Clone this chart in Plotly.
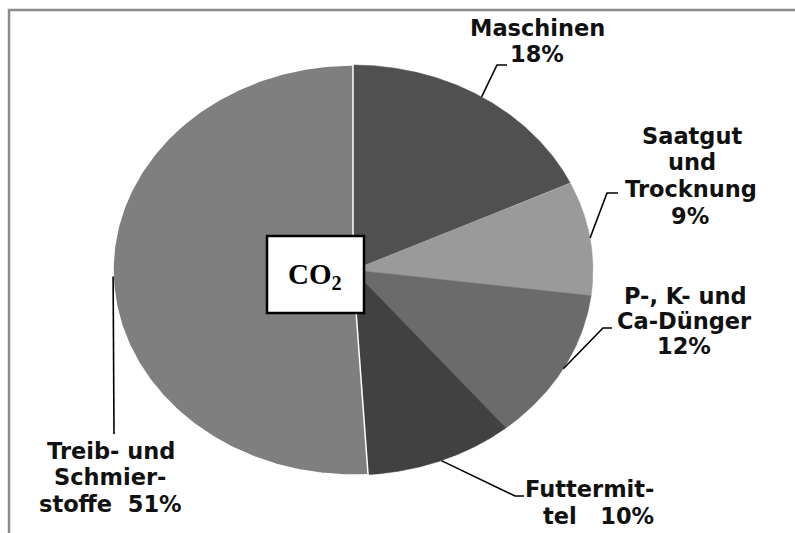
import numpy as np
import plotly.graph_objects as go

# ---- data ----
categories = ["Maschinen", "Saatgut und Trocknung", "P-, K- und Ca-Dünger",
              "Futtermittel", "Treib- und Schmierstoffe"]
shares = [18, 9, 12, 10, 51]
label_templates = [
    ["Maschinen", "{p}%"],
    ["Saatgut", "und", "Trocknung", "{p}%"],
    ["P-, K- und", "Ca-Dünger", "{p}%"],
    ["Futtermit-", "tel\u00a0\u00a0\u00a0{p}%"],
    ["Treib-\u00a0und", "Schmier-", "stoffe\u00a0\u00a0{p}%"],
]
center_label = "CO<sub>2</sub>"

# ---- styling / layout ----
colors = ["#505050", "#9a9a9a", "#6b6b6b", "#414141", "#7f7f7f"]
W, H = 795, 533
CX, CY, RX, RY = 353, 270, 240, 205
label_pos = [
    [(537, 28), (537, 54)],
    [(692, 136), (692, 162), (691, 189), (690, 216)],
    [(685, 296), (684, 321), (684, 346)],
    [(589, 489), (598, 516)],
    [(111, 451), (110, 477), (110, 504)],
]
leader_ends = [
    [(497, 65), (507, 65)],
    [(607, 193), (618, 193)],
    [(603, 328), (612, 328)],
    [(515, 496), (524, 496)],
    [(114, 434)],
]
FONT = dict(family="DejaVu Sans", size=22.5, color="#111111", weight="bold")

fig = go.Figure()

fracs = np.cumsum([0] + shares) / sum(shares) * 2 * np.pi
for i, name in enumerate(categories):
    a0, a1 = fracs[i], fracs[i + 1]
    t = np.linspace(a0, a1, 200)
    xs = np.concatenate([[CX], CX + RX * np.sin(t), [CX]])
    ys = np.concatenate([[CY], CY - RY * np.cos(t), [CY]])
    is_big = shares[i] == max(shares)
    fig.add_trace(go.Scatter(
        x=xs, y=ys, mode="lines", fill="toself", fillcolor=colors[i],
        line=dict(color="white" if is_big else colors[i], width=1.5 if is_big else 0.5),
        name=name, hoverinfo="name", showlegend=False,
    ))

# leader lines from slice mid-angles
for i in range(len(categories)):
    mid = (fracs[i] + fracs[i + 1]) / 2
    sx, sy = CX + RX * np.sin(mid), CY - RY * np.cos(mid)
    pts = [(sx, sy)] + leader_ends[i]
    fig.add_trace(go.Scatter(
        x=[p[0] for p in pts], y=[p[1] for p in pts], mode="lines",
        line=dict(color="black", width=1.6), hoverinfo="skip", showlegend=False,
    ))

annotations = []
for i, lines in enumerate(label_templates):
    for j, ln in enumerate(lines):
        x, y = label_pos[i][j]
        annotations.append(dict(
            x=x, y=y, xref="x", yref="y", text=ln.format(p=shares[i]),
            showarrow=False, font=FONT, xanchor="center", yanchor="middle",
        ))
annotations.append(dict(
    x=315, y=276, xref="x", yref="y", text=center_label, showarrow=False,
    font=dict(family="Liberation Serif", size=29, color="black", weight="bold"),
    xanchor="center", yanchor="middle",
))

shapes = [
    dict(type="path", path=f"M 9 {H} L 9 10 L {W} 10", xref="x", yref="y",
         line=dict(color="#8a8a8a", width=2.5), layer="below"),
    dict(type="rect", x0=267, x1=364, y0=236, y1=313, xref="x", yref="y",
         line=dict(color="black", width=2.5), fillcolor="white", layer="above"),
]

fig.update_layout(
    width=W, height=H, margin=dict(l=0, r=0, t=0, b=0),
    paper_bgcolor="white", plot_bgcolor="white",
    xaxis=dict(range=[0, W], visible=False, fixedrange=True),
    yaxis=dict(range=[H, 0], visible=False, fixedrange=True),
    annotations=annotations, shapes=shapes, showlegend=False,
)

fig.write_html(
    "out.html",
    config={"displayModeBar": False, "staticPlot": True},
    post_script="document.body.style.margin='0px';document.body.style.overflow='hidden';",
)
